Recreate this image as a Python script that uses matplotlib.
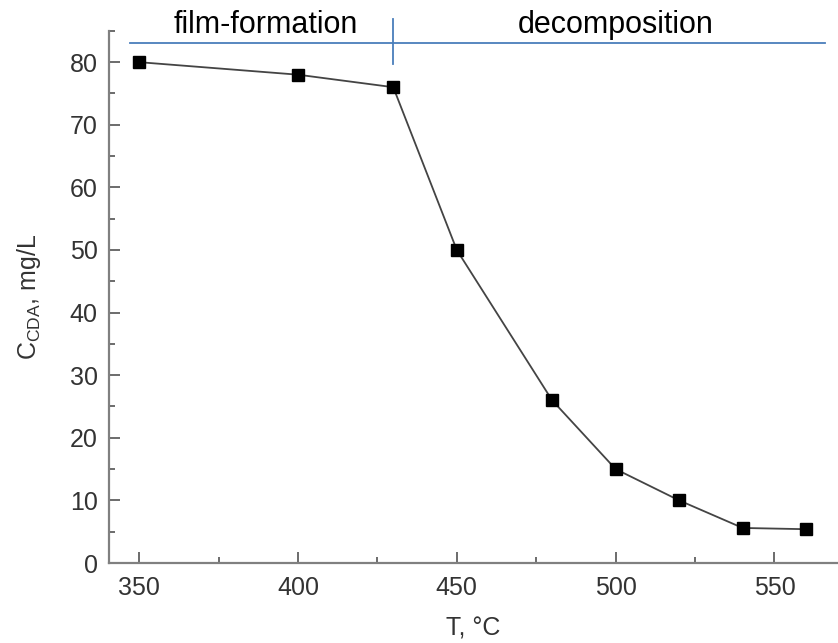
import numpy as np
import matplotlib.pyplot as plt
from matplotlib.ticker import MultipleLocator

plt.rcParams['font.family'] = ['Liberation Sans', 'DejaVu Sans']
plt.rcParams['mathtext.default'] = 'regular'

# temperature, degC and concentration, mg/L
T = [350, 400, 430, 450, 480, 500, 520, 540, 560]
C = [80, 78, 76, 50, 26, 15, 10, 5.6, 5.4]

# stage annotation on top
stage_names = ["film-formation", "decomposition"]
stage_centers = [390, 500]
stage_span = [347, 566]
stage_y = 83.1
boundary_T = 430
boundary_y = [79.7, 86.9]

fig = plt.figure(figsize=(8.38, 6.43), dpi=100)
ax = fig.add_axes([0.130, 0.1244, 0.870, 0.8276])

ax.plot(T, C, color="#444444", lw=1.3, marker="s", ms=9,
        mfc="black", mec="black", zorder=3)

ax.set_xlim(340.5, 570)
ax.set_ylim(0, 85)
ax.xaxis.set_major_locator(MultipleLocator(50))
ax.xaxis.set_minor_locator(MultipleLocator(25))
ax.yaxis.set_major_locator(MultipleLocator(10))
ax.yaxis.set_minor_locator(MultipleLocator(5))

for s in ["top", "right"]:
    ax.spines[s].set_visible(False)
for s in ["left", "bottom"]:
    ax.spines[s].set_color("#808080")
    ax.spines[s].set_linewidth(1.6)

ax.tick_params(which="both", direction="in", color="#606060", width=1.3,
               labelsize=18, labelcolor="#333333")
ax.tick_params(which="major", length=8)
ax.tick_params(which="minor", length=4)
ax.tick_params(axis="y", pad=8)
ax.tick_params(axis="x", pad=9)

ax.set_xlabel("T, °C", fontsize=18, color="#333333", labelpad=12)
ax.set_ylabel("C$_{CDA}$, mg/L", fontsize=18, color="#333333", labelpad=19)

blue = "#4A7EBB"
ax.plot(stage_span, [stage_y, stage_y], color=blue, lw=1.3, clip_on=False)
ax.plot([boundary_T, boundary_T], boundary_y, color=blue, lw=1.3, clip_on=False)
for name, xc in zip(stage_names, stage_centers):
    ax.text(xc, 84.7, name, ha="center", va="baseline", fontsize=22,
            color="black", clip_on=False)

fig.savefig("out.png", dpi=100)
